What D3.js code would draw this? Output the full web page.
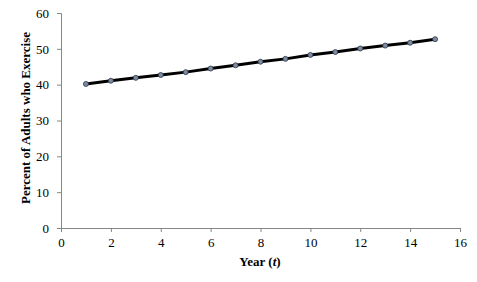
<!DOCTYPE html>
<html>
<head>
<meta charset="utf-8">
<script src="https://cdn.jsdelivr.net/npm/d3@7"></script>
<style>
  body { margin: 0; background: #fff; }
  .tick text { font-family: "Liberation Serif", "Times New Roman", serif; font-size: 13px; fill: #000; }
  .axis-label { font-family: "Liberation Serif", "Times New Roman", serif; font-size: 13px; font-weight: bold; }
</style>
</head>
<body>
<div id="chart"></div>
<script>
// Data
const years = [1, 2, 3, 4, 5, 6, 7, 8, 9, 10, 11, 12, 13, 14, 15];
const percents = [40.2, 41.1, 41.9, 42.7, 43.5, 44.5, 45.4, 46.4, 47.2, 48.3, 49.1, 50.1, 50.9, 51.7, 52.7];
const xTicks = [0, 2, 4, 6, 8, 10, 12, 14, 16];
const yTicks = [0, 10, 20, 30, 40, 50, 60];

const margin = { top: 13, right: 18, bottom: 54, left: 61 },
      width = 477 - margin.left - margin.right,
      height = 282 - margin.top - margin.bottom;

const svg = d3.select("#chart")
              .append("svg")
              .attr("width", 477)
              .attr("height", 282)
              .append("g")
              .attr("transform", `translate(${margin.left},${margin.top})`);

const data = years.map((t, i) => ({ t: t, p: percents[i] }));

// Scales
const x = d3.scaleLinear().domain([0, 16]).range([0, 399]);
const y = d3.scaleLinear().domain([0, 60]).range([height, 0]);

// Axes
const xAxis = svg.append("g")
   .attr("transform", `translate(0,${height})`)
   .call(d3.axisBottom(x).tickValues(xTicks).tickSize(4).tickPadding(6));

const yAxis = svg.append("g")
   .call(d3.axisLeft(y).tickValues(yTicks).tickSize(4).tickPadding(8));

[xAxis, yAxis].forEach(a => {
    a.select(".domain").attr("stroke", "#868686");
    a.selectAll(".tick line").attr("stroke", "#868686");
});

// Line
svg.append("path")
   .datum(data)
   .attr("fill", "none")
   .attr("stroke", "#000")
   .attr("stroke-width", 3)
   .attr("d", d3.line().x(d => x(d.t)).y(d => y(d.p)));

// Markers
svg.selectAll("circle.pt")
   .data(data)
   .join("circle")
   .attr("class", "pt")
   .attr("cx", d => x(d.t))
   .attr("cy", d => y(d.p))
   .attr("r", 2.5)
   .attr("fill", "#7d8ca3")
   .attr("stroke", "#2b3440")
   .attr("stroke-width", 0.8);

// X-axis label
const xl = svg.append("text")
   .attr("class", "axis-label")
   .attr("text-anchor", "middle")
   .attr("x", 199)
   .attr("y", height + 38);
xl.append("tspan").text("Year (");
xl.append("tspan").style("font-style", "italic").text("t");
xl.append("tspan").text(")");

// Y-axis label
svg.append("text")
   .attr("class", "axis-label")
   .attr("text-anchor", "middle")
   .attr("transform", "rotate(-90)")
   .attr("x", -105)
   .attr("y", -31)
   .text("Percent of Adults who Exercise");
</script>
</body>
</html>
